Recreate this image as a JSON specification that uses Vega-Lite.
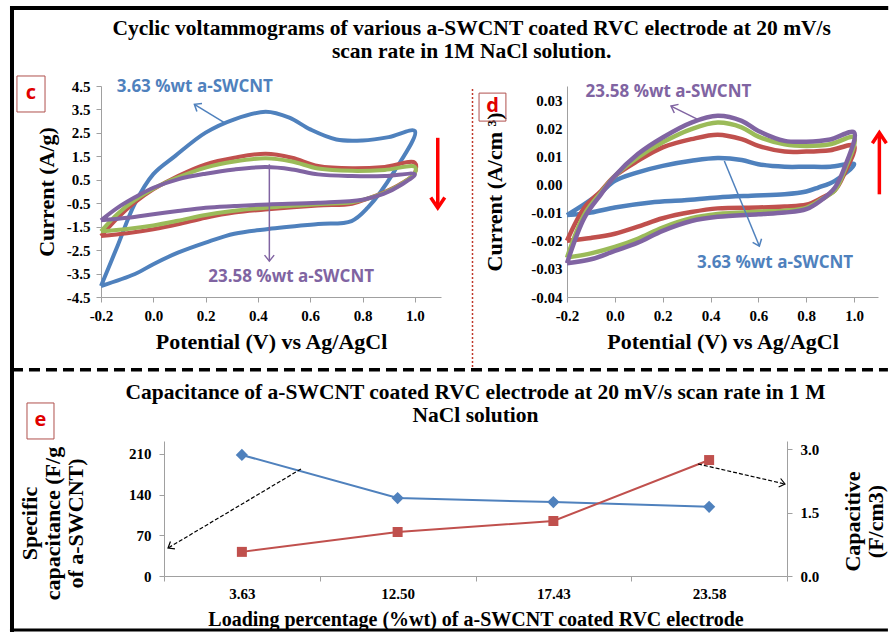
{
"$schema": "https://vega.github.io/schema/vega-lite/v6.json",
"background": "white",
"padding": {"left": 7, "top": 3, "right": 0, "bottom": 0},
"title": {"text": ["Cyclic voltammograms  of various a-SWCNT coated RVC electrode at 20 mV/s", "scan rate in 1M NaCl solution."], "font": "Liberation Serif", "fontSize": 21.5, "fontWeight": "bold", "color": "#000", "lineHeight": 23, "anchor": "middle", "frame": "bounds", "dx": 21, "offset": -59},
"bounds": "flush",
"spacing": 355,
"datasets": {
"cvc": [
{"s":"3.63","i":0,"x":-0.2,"y":-4.03},{"s":"3.63","i":1,"x":-0.136,"y":-2.3},{"s":"3.63","i":2,"x":-0.072,"y":-0.55},{"s":"3.63","i":3,"x":0.0,"y":0.74},{"s":"3.63","i":4,"x":0.083,"y":1.51},{"s":"3.63","i":5,"x":0.2,"y":2.51},{"s":"3.63","i":6,"x":0.31,"y":3.08},{"s":"3.63","i":7,"x":0.43,"y":3.4},{"s":"3.63","i":8,"x":0.52,"y":3.15},{"s":"3.63","i":9,"x":0.6,"y":2.65},{"s":"3.63","i":10,"x":0.7,"y":2.22},{"s":"3.63","i":11,"x":0.8,"y":2.18},{"s":"3.63","i":12,"x":0.9,"y":2.32},{"s":"3.63","i":13,"x":1.0,"y":2.58},{"s":"3.63","i":14,"x":0.922,"y":0.87},{"s":"3.63","i":15,"x":0.82,"y":-0.69},{"s":"3.63","i":16,"x":0.758,"y":-1.26},{"s":"3.63","i":17,"x":0.63,"y":-1.39},{"s":"3.63","i":18,"x":0.44,"y":-1.6},{"s":"3.63","i":19,"x":0.31,"y":-1.8},{"s":"3.63","i":20,"x":0.2,"y":-2.18},{"s":"3.63","i":21,"x":0.094,"y":-2.61},{"s":"3.63","i":22,"x":0.0,"y":-3.1},{"s":"3.63","i":23,"x":-0.07,"y":-3.52},{"s":"3.63","i":24,"x":-0.2,"y":-4.03},
{"s":"12.50","i":0,"x":-0.2,"y":-1.9},{"s":"12.50","i":1,"x":-0.136,"y":-1.12},{"s":"12.50","i":2,"x":-0.072,"y":-0.48},{"s":"12.50","i":3,"x":0.0,"y":0.09},{"s":"12.50","i":4,"x":0.094,"y":0.66},{"s":"12.50","i":5,"x":0.2,"y":1.16},{"s":"12.50","i":6,"x":0.31,"y":1.44},{"s":"12.50","i":7,"x":0.43,"y":1.61},{"s":"12.50","i":8,"x":0.53,"y":1.44},{"s":"12.50","i":9,"x":0.63,"y":1.09},{"s":"12.50","i":10,"x":0.76,"y":0.99},{"s":"12.50","i":11,"x":0.885,"y":1.05},{"s":"12.50","i":12,"x":1.0,"y":1.23},{"s":"12.50","i":13,"x":1.0,"y":0.8},{"s":"12.50","i":14,"x":0.95,"y":0.35},{"s":"12.50","i":15,"x":0.88,"y":-0.05},{"s":"12.50","i":16,"x":0.82,"y":-0.3},{"s":"12.50","i":17,"x":0.76,"y":-0.52},{"s":"12.50","i":18,"x":0.63,"y":-0.6},{"s":"12.50","i":19,"x":0.44,"y":-0.76},{"s":"12.50","i":20,"x":0.31,"y":-0.9},{"s":"12.50","i":21,"x":0.2,"y":-1.12},{"s":"12.50","i":22,"x":0.094,"y":-1.4},{"s":"12.50","i":23,"x":0.0,"y":-1.61},{"s":"12.50","i":24,"x":-0.1,"y":-1.78},{"s":"12.50","i":25,"x":-0.2,"y":-1.9},
{"s":"17.43","i":0,"x":-0.2,"y":-1.7},{"s":"17.43","i":1,"x":-0.136,"y":-0.95},{"s":"17.43","i":2,"x":-0.072,"y":-0.38},{"s":"17.43","i":3,"x":0.0,"y":0.12},{"s":"17.43","i":4,"x":0.094,"y":0.6},{"s":"17.43","i":5,"x":0.2,"y":1.02},{"s":"17.43","i":6,"x":0.31,"y":1.28},{"s":"17.43","i":7,"x":0.43,"y":1.42},{"s":"17.43","i":8,"x":0.53,"y":1.28},{"s":"17.43","i":9,"x":0.63,"y":0.98},{"s":"17.43","i":10,"x":0.76,"y":0.88},{"s":"17.43","i":11,"x":0.885,"y":0.92},{"s":"17.43","i":12,"x":1.0,"y":1.05},{"s":"17.43","i":13,"x":1.0,"y":0.78},{"s":"17.43","i":14,"x":0.95,"y":0.33},{"s":"17.43","i":15,"x":0.88,"y":-0.07},{"s":"17.43","i":16,"x":0.82,"y":-0.3},{"s":"17.43","i":17,"x":0.76,"y":-0.46},{"s":"17.43","i":18,"x":0.63,"y":-0.54},{"s":"17.43","i":19,"x":0.44,"y":-0.68},{"s":"17.43","i":20,"x":0.31,"y":-0.82},{"s":"17.43","i":21,"x":0.2,"y":-1.0},{"s":"17.43","i":22,"x":0.094,"y":-1.25},{"s":"17.43","i":23,"x":0.0,"y":-1.45},{"s":"17.43","i":24,"x":-0.1,"y":-1.6},{"s":"17.43","i":25,"x":-0.2,"y":-1.7},
{"s":"23.58","i":0,"x":-0.2,"y":-1.23},{"s":"23.58","i":1,"x":-0.136,"y":-0.69},{"s":"23.58","i":2,"x":-0.072,"y":-0.26},{"s":"23.58","i":3,"x":0.0,"y":0.16},{"s":"23.58","i":4,"x":0.094,"y":0.52},{"s":"23.58","i":5,"x":0.2,"y":0.76},{"s":"23.58","i":6,"x":0.31,"y":0.94},{"s":"23.58","i":7,"x":0.43,"y":1.04},{"s":"23.58","i":8,"x":0.53,"y":0.94},{"s":"23.58","i":9,"x":0.63,"y":0.73},{"s":"23.58","i":10,"x":0.76,"y":0.66},{"s":"23.58","i":11,"x":0.885,"y":0.66},{"s":"23.58","i":12,"x":1.0,"y":0.73},{"s":"23.58","i":13,"x":0.95,"y":0.3},{"s":"23.58","i":14,"x":0.88,"y":-0.1},{"s":"23.58","i":15,"x":0.8,"y":-0.35},{"s":"23.58","i":16,"x":0.63,"y":-0.48},{"s":"23.58","i":17,"x":0.44,"y":-0.55},{"s":"23.58","i":18,"x":0.31,"y":-0.62},{"s":"23.58","i":19,"x":0.2,"y":-0.69},{"s":"23.58","i":20,"x":0.094,"y":-0.83},{"s":"23.58","i":21,"x":0.0,"y":-0.97},{"s":"23.58","i":22,"x":-0.1,"y":-1.12},{"s":"23.58","i":23,"x":-0.2,"y":-1.23}
],
"cvd": [
{"s":"3.63","i":0,"x":-0.2,"y":-0.0109},{"s":"3.63","i":1,"x":-0.127,"y":-0.007},{"s":"3.63","i":2,"x":-0.058,"y":-0.0029},{"s":"3.63","i":3,"x":0.0,"y":0.0013},{"s":"3.63","i":4,"x":0.096,"y":0.0043},{"s":"3.63","i":5,"x":0.2,"y":0.0066},{"s":"3.63","i":6,"x":0.32,"y":0.0084},{"s":"3.63","i":7,"x":0.43,"y":0.0094},{"s":"3.63","i":8,"x":0.53,"y":0.0087},{"s":"3.63","i":9,"x":0.6,"y":0.0072},{"s":"3.63","i":10,"x":0.71,"y":0.0063},{"s":"3.63","i":11,"x":0.8,"y":0.0063},{"s":"3.63","i":12,"x":0.9,"y":0.0063},{"s":"3.63","i":13,"x":1.0,"y":0.0072},{"s":"3.63","i":14,"x":0.92,"y":0.0013},{"s":"3.63","i":15,"x":0.85,"y":-0.0011},{"s":"3.63","i":16,"x":0.8,"y":-0.0025},{"s":"3.63","i":17,"x":0.71,"y":-0.0035},{"s":"3.63","i":18,"x":0.57,"y":-0.004},{"s":"3.63","i":19,"x":0.43,"y":-0.0046},{"s":"3.63","i":20,"x":0.29,"y":-0.0056},{"s":"3.63","i":21,"x":0.15,"y":-0.0064},{"s":"3.63","i":22,"x":0.0,"y":-0.0082},{"s":"3.63","i":23,"x":-0.1,"y":-0.01},{"s":"3.63","i":24,"x":-0.2,"y":-0.0109},
{"s":"12.50","i":0,"x":-0.2,"y":-0.02},{"s":"12.50","i":1,"x":-0.127,"y":-0.0082},{"s":"12.50","i":2,"x":-0.058,"y":-0.0023},{"s":"12.50","i":3,"x":0.0,"y":0.003},{"s":"12.50","i":4,"x":0.096,"y":0.0084},{"s":"12.50","i":5,"x":0.2,"y":0.0132},{"s":"12.50","i":6,"x":0.32,"y":0.0161},{"s":"12.50","i":7,"x":0.43,"y":0.0177},{"s":"12.50","i":8,"x":0.53,"y":0.0161},{"s":"12.50","i":9,"x":0.6,"y":0.0137},{"s":"12.50","i":10,"x":0.71,"y":0.0117},{"s":"12.50","i":11,"x":0.8,"y":0.0117},{"s":"12.50","i":12,"x":0.9,"y":0.0122},{"s":"12.50","i":13,"x":1.0,"y":0.0137},{"s":"12.50","i":14,"x":0.96,"y":0.004},{"s":"12.50","i":15,"x":0.92,"y":-0.002},{"s":"12.50","i":16,"x":0.86,"y":-0.005},{"s":"12.50","i":17,"x":0.8,"y":-0.0072},{"s":"12.50","i":18,"x":0.71,"y":-0.0078},{"s":"12.50","i":19,"x":0.6,"y":-0.0082},{"s":"12.50","i":20,"x":0.43,"y":-0.0085},{"s":"12.50","i":21,"x":0.32,"y":-0.0098},{"s":"12.50","i":22,"x":0.2,"y":-0.012},{"s":"12.50","i":23,"x":0.096,"y":-0.015},{"s":"12.50","i":24,"x":0.0,"y":-0.0175},{"s":"12.50","i":25,"x":-0.1,"y":-0.019},{"s":"12.50","i":26,"x":-0.2,"y":-0.02},
{"s":"17.43","i":0,"x":-0.2,"y":-0.026},{"s":"17.43","i":1,"x":-0.127,"y":-0.0106},{"s":"17.43","i":2,"x":-0.058,"y":-0.0029},{"s":"17.43","i":3,"x":0.0,"y":0.003},{"s":"17.43","i":4,"x":0.096,"y":0.0096},{"s":"17.43","i":5,"x":0.2,"y":0.015},{"s":"17.43","i":6,"x":0.32,"y":0.0197},{"s":"17.43","i":7,"x":0.43,"y":0.022},{"s":"17.43","i":8,"x":0.53,"y":0.0203},{"s":"17.43","i":9,"x":0.6,"y":0.017},{"s":"17.43","i":10,"x":0.71,"y":0.0143},{"s":"17.43","i":11,"x":0.8,"y":0.0137},{"s":"17.43","i":12,"x":0.9,"y":0.0143},{"s":"17.43","i":13,"x":1.0,"y":0.0167},{"s":"17.43","i":14,"x":0.96,"y":0.005},{"s":"17.43","i":15,"x":0.92,"y":-0.002},{"s":"17.43","i":16,"x":0.86,"y":-0.0055},{"s":"17.43","i":17,"x":0.8,"y":-0.0083},{"s":"17.43","i":18,"x":0.71,"y":-0.0093},{"s":"17.43","i":19,"x":0.6,"y":-0.0097},{"s":"17.43","i":20,"x":0.43,"y":-0.0105},{"s":"17.43","i":21,"x":0.32,"y":-0.012},{"s":"17.43","i":22,"x":0.2,"y":-0.0153},{"s":"17.43","i":23,"x":0.096,"y":-0.0193},{"s":"17.43","i":24,"x":0.0,"y":-0.0222},{"s":"17.43","i":25,"x":-0.1,"y":-0.0245},{"s":"17.43","i":26,"x":-0.2,"y":-0.026},
{"s":"23.58","i":0,"x":-0.2,"y":-0.028},{"s":"23.58","i":1,"x":-0.127,"y":-0.0118},{"s":"23.58","i":2,"x":-0.058,"y":-0.0035},{"s":"23.58","i":3,"x":0.0,"y":0.003},{"s":"23.58","i":4,"x":0.096,"y":0.0108},{"s":"23.58","i":5,"x":0.2,"y":0.0167},{"s":"23.58","i":6,"x":0.32,"y":0.022},{"s":"23.58","i":7,"x":0.43,"y":0.0244},{"s":"23.58","i":8,"x":0.53,"y":0.0226},{"s":"23.58","i":9,"x":0.6,"y":0.019},{"s":"23.58","i":10,"x":0.71,"y":0.0155},{"s":"23.58","i":11,"x":0.8,"y":0.0152},{"s":"23.58","i":12,"x":0.9,"y":0.016},{"s":"23.58","i":13,"x":1.0,"y":0.0185},{"s":"23.58","i":14,"x":0.96,"y":0.006},{"s":"23.58","i":15,"x":0.92,"y":-0.0011},{"s":"23.58","i":16,"x":0.86,"y":-0.0058},{"s":"23.58","i":17,"x":0.8,"y":-0.0088},{"s":"23.58","i":18,"x":0.71,"y":-0.01},{"s":"23.58","i":19,"x":0.6,"y":-0.0106},{"s":"23.58","i":20,"x":0.43,"y":-0.0115},{"s":"23.58","i":21,"x":0.32,"y":-0.013},{"s":"23.58","i":22,"x":0.2,"y":-0.0165},{"s":"23.58","i":23,"x":0.096,"y":-0.0207},{"s":"23.58","i":24,"x":0.0,"y":-0.0236},{"s":"23.58","i":25,"x":-0.1,"y":-0.0266},{"s":"23.58","i":26,"x":-0.2,"y":-0.028}
],
"cap": [
{"load":"3.63","cs":208,"cv":0.57},{"load":"12.50","cs":134,"cv":1.04},{"load":"17.43","cs":127,"cv":1.30},{"load":"23.58","cs":119,"cv":2.74}
]
},
"vconcat": [
{"bounds": "flush", "spacing": 126, "hconcat": [
{"width": 340, "height": 211,
 "resolve": {"axis": {"x": "independent", "y": "independent"}},
 "layer": [
  {"data": {"name": "cvc"}, "mark": {"type": "line", "strokeWidth": 4, "interpolate": "catmull-rom"},
   "encoding": {
    "x": {"field": "x", "type": "quantitative", "scale": {"domain": [-0.2, 1.1], "nice": false}, "axis": {"values": [-0.2, 0, 0.2, 0.4, 0.6, 0.8, 1.0], "format": ".1f", "labelExpr": "replace(datum.label, '\u2212', '-')", "title": "Potential  (V) vs Ag/AgCl", "labelFlush": false, "labelOverlap": false}},
    "y": {"field": "y", "type": "quantitative", "scale": {"domain": [-4.5, 4.5], "nice": false}, "axis": {"values": [-4.5, -3.5, -2.5, -1.5, -0.5, 0.5, 1.5, 2.5, 3.5, 4.5], "format": ".1f", "labelExpr": "replace(datum.label, '\u2212', '-')", "title": "Current  (A/g)", "labelOverlap": false}},
    "color": {"field": "s", "type": "nominal", "scale": {"domain": ["3.63", "12.50", "17.43", "23.58"], "range": ["#4F81BD", "#C0504D", "#9BBB59", "#8064A2"]}, "legend": null},
    "order": {"field": "i", "type": "quantitative"}}},
  {"data": {"values": [{"x": -0.5403, "y": 7.913, "x2": -0.5403, "y2": -18.84}, {"x": -0.548, "y": 7.828, "x2": 2.81, "y2": 7.828}]},
   "mark": {"type": "rule", "color": "#000", "strokeWidth": 4},
   "encoding": {"x": {"field": "x", "type": "quantitative", "axis": null}, "y": {"field": "y", "type": "quantitative", "axis": null}, "x2": {"field": "x2"}, "y2": {"field": "y2"}}},
  {"data": {"values": [{"s": "3.63", "x": 0.2716, "y": 2.934, "x2": 0.157, "y2": 3.72}, {"s": "23.58", "x": 0.4437, "y": 1.16, "x2": 0.4437, "y2": -2.97}]},
   "mark": {"type": "rule", "strokeWidth": 1.5},
   "encoding": {"x": {"field": "x", "type": "quantitative", "axis": null}, "y": {"field": "y", "type": "quantitative", "axis": null}, "x2": {"field": "x2"}, "y2": {"field": "y2"}, "color": {"field": "s", "type": "nominal", "legend": null}}},
  {"data": {"values": [{"s": "3.63", "x": 0.157, "y": 3.72}]},
   "mark": {"type": "point", "shape": "M-0.8,1L0,0L0.8,1", "size": 144, "filled": false, "strokeWidth": 1.5, "opacity": 1, "angle": 302},
   "encoding": {"x": {"field": "x", "type": "quantitative", "axis": null}, "y": {"field": "y", "type": "quantitative", "axis": null}, "color": {"field": "s", "type": "nominal", "legend": null}}},
  {"data": {"values": [{"s": "23.58", "x": 0.4437, "y": -2.97}]},
   "mark": {"type": "point", "shape": "M-0.8,1L0,0L0.8,1", "size": 144, "filled": false, "strokeWidth": 1.5, "opacity": 1, "angle": 180},
   "encoding": {"x": {"field": "x", "type": "quantitative", "axis": null}, "y": {"field": "y", "type": "quantitative", "axis": null}, "color": {"field": "s", "type": "nominal", "legend": null}}},
  {"data": {"values": [{"s": "3.63", "x": 0.159, "y": 4.46, "label": "3.63 %wt a-SWCNT"}, {"s": "23.58", "x": 0.527, "y": -3.65, "label": "23.58 %wt a-SWCNT"}]},
   "mark": {"type": "text", "font": "Open Sans", "fontWeight": "bold", "fontSize": 17, "align": "center", "baseline": "middle"},
   "encoding": {"x": {"field": "x", "type": "quantitative", "axis": null}, "y": {"field": "y", "type": "quantitative", "axis": null}, "text": {"field": "label"}, "color": {"field": "s", "type": "nominal", "legend": null}}},
  {"data": {"values": [{"x": 1.0876, "y": 2.29, "x2": 1.0876, "y2": -0.62}]},
   "mark": {"type": "rule", "color": "#FF0000", "strokeWidth": 3.5},
   "encoding": {"x": {"field": "x", "type": "quantitative", "axis": null}, "y": {"field": "y", "type": "quantitative", "axis": null}, "x2": {"field": "x2"}, "y2": {"field": "y2"}}},
  {"data": {"values": [{"x": 1.0876, "y": -0.70}]},
   "mark": {"type": "point", "shape": "M-1,1.5L0,0L1,1.5", "size": 196, "filled": false, "strokeWidth": 3.5, "color": "#FF0000", "opacity": 1, "angle": 180},
   "encoding": {"x": {"field": "x", "type": "quantitative", "axis": null}, "y": {"field": "y", "type": "quantitative", "axis": null}}},
  {"data": {"values": [{"x": -0.4677, "y": 4.159, "t": "c"}]},
   "mark": {"type": "point", "shape": "M-0.78,-1H0.78V1H-0.78Z", "size": 1296, "filled": false, "strokeWidth": 1, "color": "#B0504D", "opacity": 1},
   "encoding": {"x": {"field": "x", "type": "quantitative", "axis": null}, "y": {"field": "y", "type": "quantitative", "axis": null}}},
  {"data": {"values": [{"x": -0.4677, "y": 4.159, "t": "c"}]},
   "mark": {"type": "text", "font": "Open Sans", "fontWeight": "bold", "fontSize": 20, "color": "#E00000", "align": "center", "baseline": "middle", "dy": -1},
   "encoding": {"x": {"field": "x", "type": "quantitative", "axis": null}, "y": {"field": "y", "type": "quantitative", "axis": null}, "text": {"field": "t"}}}
 ]},
{"width": 311, "height": 211,
 "resolve": {"axis": {"x": "independent", "y": "independent"}},
 "layer": [
  {"data": {"name": "cvd"}, "mark": {"type": "line", "strokeWidth": 4.5, "interpolate": "catmull-rom"},
   "encoding": {
    "x": {"field": "x", "type": "quantitative", "scale": {"domain": [-0.2, 1.1], "nice": false}, "axis": {"values": [-0.2, 0, 0.2, 0.4, 0.6, 0.8, 1.0], "format": ".1f", "labelExpr": "replace(datum.label, '\u2212', '-')", "title": "Potential  (V) vs Ag/AgCl", "labelFlush": false, "labelOverlap": false}},
    "y": {"field": "y", "type": "quantitative", "scale": {"domain": [-0.04, 0.035], "nice": false}, "axis": {"values": [-0.04, -0.03, -0.02, -0.01, 0, 0.01, 0.02, 0.03], "format": ".2f", "labelExpr": "replace(datum.label, '\u2212', '-')", "title": "Current  (A/cm \u00b3)", "labelOverlap": false, "tickSize": 0, "labelPadding": 5, "titlePadding": 24}},
    "color": {"field": "s", "type": "nominal", "scale": {"domain": ["3.63", "12.50", "17.43", "23.58"], "range": ["#4F81BD", "#C0504D", "#9BBB59", "#8064A2"]}, "legend": null},
    "order": {"field": "i", "type": "quantitative"}}},
  {"data": {"values": [{"x": -0.595, "y": 0.0339, "x2": -0.595, "y2": -0.0656}]},
   "mark": {"type": "rule", "color": "#C0392B", "strokeWidth": 1.5, "strokeDash": [2, 2]},
   "encoding": {"x": {"field": "x", "type": "quantitative", "axis": null}, "y": {"field": "y", "type": "quantitative", "axis": null}, "x2": {"field": "x2"}, "y2": {"field": "y2"}}},
  {"data": {"values": [{"s": "23.58", "x": 0.3464, "y": 0.02314, "x2": 0.2348, "y2": 0.02787}, {"s": "3.63", "x": 0.4577, "y": 0.00832, "x2": 0.604, "y2": -0.0219}]},
   "mark": {"type": "rule", "strokeWidth": 1.5},
   "encoding": {"x": {"field": "x", "type": "quantitative", "axis": null}, "y": {"field": "y", "type": "quantitative", "axis": null}, "x2": {"field": "x2"}, "y2": {"field": "y2"}, "color": {"field": "s", "type": "nominal", "legend": null}}},
  {"data": {"values": [{"s": "23.58", "x": 0.2348, "y": 0.02787}]},
   "mark": {"type": "point", "shape": "M-0.8,1L0,0L0.8,1", "size": 144, "filled": false, "strokeWidth": 1.5, "opacity": 1, "angle": 296},
   "encoding": {"x": {"field": "x", "type": "quantitative", "axis": null}, "y": {"field": "y", "type": "quantitative", "axis": null}, "color": {"field": "s", "type": "nominal", "legend": null}}},
  {"data": {"values": [{"s": "3.63", "x": 0.604, "y": -0.0219}]},
   "mark": {"type": "point", "shape": "M-0.8,1L0,0L0.8,1", "size": 144, "filled": false, "strokeWidth": 1.5, "opacity": 1, "angle": 158},
   "encoding": {"x": {"field": "x", "type": "quantitative", "axis": null}, "y": {"field": "y", "type": "quantitative", "axis": null}, "color": {"field": "s", "type": "nominal", "legend": null}}},
  {"data": {"values": [{"s": "23.58", "x": 0.224, "y": 0.0327, "label": "23.58 %wt a-SWCNT"}, {"s": "3.63", "x": 0.67, "y": -0.0278, "label": "3.63 %wt a-SWCNT"}]},
   "mark": {"type": "text", "font": "Open Sans", "fontWeight": "bold", "fontSize": 17, "align": "center", "baseline": "middle"},
   "encoding": {"x": {"field": "x", "type": "quantitative", "axis": null}, "y": {"field": "y", "type": "quantitative", "axis": null}, "text": {"field": "label"}, "color": {"field": "s", "type": "nominal", "legend": null}}},
  {"data": {"values": [{"x": 1.1057, "y": -0.0035, "x2": 1.1057, "y2": 0.0178}]},
   "mark": {"type": "rule", "color": "#FF0000", "strokeWidth": 3.5},
   "encoding": {"x": {"field": "x", "type": "quantitative", "axis": null}, "y": {"field": "y", "type": "quantitative", "axis": null}, "x2": {"field": "x2"}, "y2": {"field": "y2"}}},
  {"data": {"values": [{"x": 1.1057, "y": 0.0184}]},
   "mark": {"type": "point", "shape": "M-1,1.5L0,0L1,1.5", "size": 196, "filled": false, "strokeWidth": 3.5, "color": "#FF0000", "opacity": 1, "angle": 0},
   "encoding": {"x": {"field": "x", "type": "quantitative", "axis": null}, "y": {"field": "y", "type": "quantitative", "axis": null}}},
  {"data": {"values": [{"x": -0.5115, "y": 0.0275, "t": "d"}]},
   "mark": {"type": "point", "shape": "M-0.96,-1H0.96V1H-0.96Z", "size": 784, "filled": false, "strokeWidth": 1, "color": "#B0504D", "opacity": 1},
   "encoding": {"x": {"field": "x", "type": "quantitative", "axis": null}, "y": {"field": "y", "type": "quantitative", "axis": null}}},
  {"data": {"values": [{"x": -0.5115, "y": 0.0275, "t": "d"}]},
   "mark": {"type": "text", "font": "Open Sans", "fontWeight": "bold", "fontSize": 20, "color": "#E00000", "align": "center", "baseline": "middle", "dy": -1},
   "encoding": {"x": {"field": "x", "type": "quantitative", "axis": null}, "y": {"field": "y", "type": "quantitative", "axis": null}, "text": {"field": "t"}}}
 ]}
]},
{"bounds": "flush", "spacing": 62, "hconcat": [
{"width": 1, "height": 1, "data": {"values": [{}]}, "mark": {"type": "point", "opacity": 0}, "encoding": {}},
{"width": 623, "height": 135,
 "title": {"text": ["Capacitance of a-SWCNT coated RVC electrode at 20 mV/s scan rate in 1 M", "NaCl solution"], "font": "Liberation Serif", "fontSize": 21.5, "fontWeight": "bold", "color": "#000", "lineHeight": 23, "anchor": "middle", "offset": -59},
 "layer": [
  {"data": {"name": "cap"}, "mark": {"type": "line", "color": "#4F81BD", "strokeWidth": 2},
   "encoding": {
    "x": {"field": "load", "type": "ordinal", "sort": null, "scale": {"type": "band", "domain": ["3.63", "12.50", "17.43", "23.58"], "paddingInner": 0, "paddingOuter": 0}, "axis": {"title": "Loading percentage (%wt) of a-SWCNT coated RVC electrode", "tickBand": "extent", "labelAngle": 0, "labelPadding": 5, "titlePadding": 8, "titleFontSize": 20}},
    "y": {"field": "cs", "type": "quantitative", "scale": {"domain": [0, 232], "nice": false}, "axis": {"values": [0, 70, 140, 210], "title": ["Specific", "capacitance (F/g", "of a-SWCNT)"], "labelPadding": 8, "titlePadding": 41, "titleLineHeight": 23, "titleY": 82}}}},
  {"data": {"name": "cap"}, "mark": {"type": "line", "color": "#C0504D", "strokeWidth": 2},
   "encoding": {
    "x": {"field": "load", "type": "ordinal", "sort": null, "scale": {"type": "band", "domain": ["3.63", "12.50", "17.43", "23.58"], "paddingInner": 0, "paddingOuter": 0}, "axis": null},
    "y": {"field": "cv", "type": "quantitative", "scale": {"domain": [0, 3.19], "nice": false}, "axis": {"orient": "right", "values": [0, 1.5, 3], "format": ".1f", "title": ["Capacitive", "(F/cm3)"], "titleAngle": 270, "titleBaseline": "top", "labelPadding": 8, "titlePadding": 1, "titleLineHeight": 23, "titleY": 80}}}},
  {"data": {"name": "cap"}, "mark": {"type": "point", "shape": "diamond", "filled": true, "size": 150, "color": "#4F81BD", "opacity": 1},
   "encoding": {
    "x": {"field": "load", "type": "ordinal", "sort": null, "scale": {"type": "band", "domain": ["3.63", "12.50", "17.43", "23.58"], "paddingInner": 0, "paddingOuter": 0}, "axis": null},
    "y": {"field": "cs", "type": "quantitative", "scale": {"domain": [0, 232], "nice": false}, "axis": null}}},
  {"data": {"name": "cap"}, "mark": {"type": "point", "shape": "square", "filled": true, "size": 100, "color": "#C0504D", "opacity": 1},
   "encoding": {
    "x": {"field": "load", "type": "ordinal", "sort": null, "scale": {"type": "band", "domain": ["3.63", "12.50", "17.43", "23.58"], "paddingInner": 0, "paddingOuter": 0}, "axis": null},
    "y": {"field": "cv", "type": "quantitative", "scale": {"domain": [0, 3.19], "nice": false}, "axis": null}}},
  {"data": {"values": [{"q": -0.989, "ay": -92.8, "q2": 4.648, "ay2": -92.8}]},
   "mark": {"type": "rule", "color": "#000", "strokeWidth": 3},
   "encoding": {"x": {"field": "q", "type": "quantitative", "scale": {"domain": [0, 4], "nice": false}, "axis": null}, "y": {"field": "ay", "type": "quantitative", "scale": {"domain": [0, 232], "nice": false}, "axis": null}, "x2": {"field": "q2"}, "y2": {"field": "ay2"}}},
  {"data": {"values": [{"q": -0.976, "ay": 354.6, "q2": 4.648, "ay2": 354.6}]},
   "mark": {"type": "rule", "color": "#000", "strokeWidth": 3.5, "strokeDash": [11, 6]},
   "encoding": {"x": {"field": "q", "type": "quantitative", "scale": {"domain": [0, 4], "nice": false}, "axis": null}, "y": {"field": "ay", "type": "quantitative", "scale": {"domain": [0, 232], "nice": false}, "axis": null}, "x2": {"field": "q2"}, "y2": {"field": "ay2"}}},
  {"data": {"values": [{"q": 0.8796, "ay": 183.9, "q2": 0.0257, "ay2": 48.1}, {"q": 3.4286, "ay": 192.5, "q2": 3.987, "ay2": 158.1}]},
   "mark": {"type": "rule", "color": "#000", "strokeWidth": 1.2, "strokeDash": [4, 2]},
   "encoding": {"x": {"field": "q", "type": "quantitative", "scale": {"domain": [0, 4], "nice": false}, "axis": null}, "y": {"field": "ay", "type": "quantitative", "scale": {"domain": [0, 232], "nice": false}, "axis": null}, "x2": {"field": "q2"}, "y2": {"field": "ay2"}}},
  {"data": {"values": [{"q": 0.0257, "ay": 48.1}]},
   "mark": {"type": "point", "shape": "M-0.8,1L0,0L0.8,1", "size": 120, "filled": false, "strokeWidth": 1.2, "color": "#000", "opacity": 1, "angle": 239},
   "encoding": {"x": {"field": "q", "type": "quantitative", "scale": {"domain": [0, 4], "nice": false}, "axis": null}, "y": {"field": "ay", "type": "quantitative", "scale": {"domain": [0, 232], "nice": false}, "axis": null}}},
  {"data": {"values": [{"q": 3.987, "ay": 158.1}]},
   "mark": {"type": "point", "shape": "M-0.8,1L0,0L0.8,1", "size": 120, "filled": false, "strokeWidth": 1.2, "color": "#000", "opacity": 1, "angle": 103},
   "encoding": {"x": {"field": "q", "type": "quantitative", "scale": {"domain": [0, 4], "nice": false}, "axis": null}, "y": {"field": "ay", "type": "quantitative", "scale": {"domain": [0, 232], "nice": false}, "axis": null}}},
  {"data": {"values": [{"q": -0.793, "ay": 266.4}]},
   "mark": {"type": "point", "shape": "M-0.75,-1H0.75V1H-0.75Z", "size": 1296, "filled": false, "strokeWidth": 1, "color": "#B0504D", "opacity": 1},
   "encoding": {"x": {"field": "q", "type": "quantitative", "scale": {"domain": [0, 4], "nice": false}, "axis": null}, "y": {"field": "ay", "type": "quantitative", "scale": {"domain": [0, 232], "nice": false}, "axis": null}}},
  {"data": {"values": [{"q": -0.793, "ay": 266.4, "t": "e"}]},
   "mark": {"type": "text", "font": "Open Sans", "fontWeight": "bold", "fontSize": 20, "color": "#E00000", "align": "center", "baseline": "middle", "dy": -1},
   "encoding": {"x": {"field": "q", "type": "quantitative", "scale": {"domain": [0, 4], "nice": false}, "axis": null}, "y": {"field": "ay", "type": "quantitative", "scale": {"domain": [0, 232], "nice": false}, "axis": null}, "text": {"field": "t"}}}
 ],
 "resolve": {"scale": {"x": "independent", "y": "independent"}}
}
]}
],
"config": {
 "view": {"stroke": null},
 "axis": {"labelFont": "Liberation Serif", "labelFontWeight": "bold", "labelFontSize": 15, "labelColor": "#000", "titleFont": "Liberation Serif", "titleFontWeight": "bold", "titleFontSize": 22, "titleColor": "#000", "domainColor": "#A0A0A0", "tickColor": "#A0A0A0", "grid": false, "tickSize": 5, "labelPadding": 6, "titlePadding": 8, "labelOverlap": false}
}
}
